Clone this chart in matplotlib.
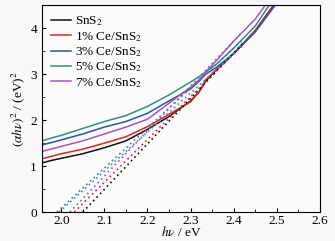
import numpy as np
import matplotlib
matplotlib.use('Agg')
import matplotlib.pyplot as plt
from matplotlib.ticker import MultipleLocator

plt.rcParams['font.family'] = 'Liberation Serif'
plt.rcParams['mathtext.fontset'] = 'stix'

# photon energy grid (eV) and Tauc curves (alpha*h*nu)^2
hv = [1.955, 1.98, 2.0, 2.05, 2.1, 2.15, 2.2, 2.25, 2.3, 2.32, 2.335, 2.36, 2.4, 2.45, 2.5]
sns2 = [1.07, 1.13, 1.17, 1.27, 1.40, 1.55, 1.80, 2.08, 2.42, 2.62, 2.85, 3.10, 3.45, 3.95, 4.60]
ce1 = [1.16, 1.22, 1.27, 1.37, 1.50, 1.64, 1.86, 2.13, 2.40, 2.62, 2.88, 3.10, 3.45, 3.95, 4.60]
ce3 = [1.46, 1.52, 1.57, 1.70, 1.85, 1.97, 2.15, 2.42, 2.68, 2.85, 3.00, 3.15, 3.45, 3.92, 4.55]
ce5 = [1.55, 1.62, 1.67, 1.82, 1.97, 2.10, 2.30, 2.55, 2.83, 2.95, 3.05, 3.22, 3.57, 4.05, 4.75]
ce7 = [1.32, 1.38, 1.43, 1.55, 1.70, 1.85, 2.02, 2.37, 2.72, 2.88, 3.05, 3.30, 3.72, 4.20, 4.85]

labels = ['SnS$_2$', '1% Ce/SnS$_2$', '3% Ce/SnS$_2$', '5% Ce/SnS$_2$', '7% Ce/SnS$_2$']
curves = [sns2, ce1, ce3, ce5, ce7]
colors = ['#111111', '#e8231c', '#2d50b5', '#2a9082', '#a653c2']
dot_colors = ['#111111', '#e8231c', '#4a86c8', '#2a9082', '#a653c2']

# tangent lines: band gap (x intercept) and slope
gaps = [2.05, 2.03, 1.995, 1.99, 2.02]
slopes = [9.9, 9.3, 8.5, 8.7, 9.8]
tangent_end = 2.42

fig = plt.figure(figsize=(3.35, 2.41), dpi=100, facecolor='#f8f8f8')
ax = fig.add_axes([0.125, 0.12, 0.83, 0.858])
ax.set_facecolor('#fbfbfb')

for y, c, lab in zip(curves, colors, labels):
    ax.plot(hv, y, color=c, lw=1.1, label=lab)

for eg, k, c in zip(gaps, slopes, dot_colors):
    xs = np.array([eg, tangent_end])
    ax.plot(xs, k * (xs - eg), color=c, lw=1.2, ls=(0, (1, 2)))

ax.set_xlim(1.955, 2.6)
ax.set_ylim(0, 4.5)
ax.xaxis.set_major_locator(MultipleLocator(0.1))
ax.xaxis.set_minor_locator(MultipleLocator(0.05))
ax.yaxis.set_major_locator(MultipleLocator(1))
ax.yaxis.set_minor_locator(MultipleLocator(0.5))
ax.tick_params(which='both', direction='in', labelsize=9.5)
ax.tick_params(axis='x', pad=2)
ax.tick_params(which='major', length=3)
ax.tick_params(which='minor', length=2)
ax.set_xlabel(r'$h\nu$ / eV', fontsize=9.5, labelpad=-1)
ax.set_ylabel(r'$(\alpha h\nu)^2$ / (eV)$^2$', fontsize=9.5, labelpad=2)

ax.legend(loc='upper left', frameon=False, fontsize=9.5, handlelength=1.5,
          handletextpad=0.3, labelspacing=0.12, borderaxespad=0.3)

fig.savefig('out.png', dpi=100, facecolor=fig.get_facecolor())
